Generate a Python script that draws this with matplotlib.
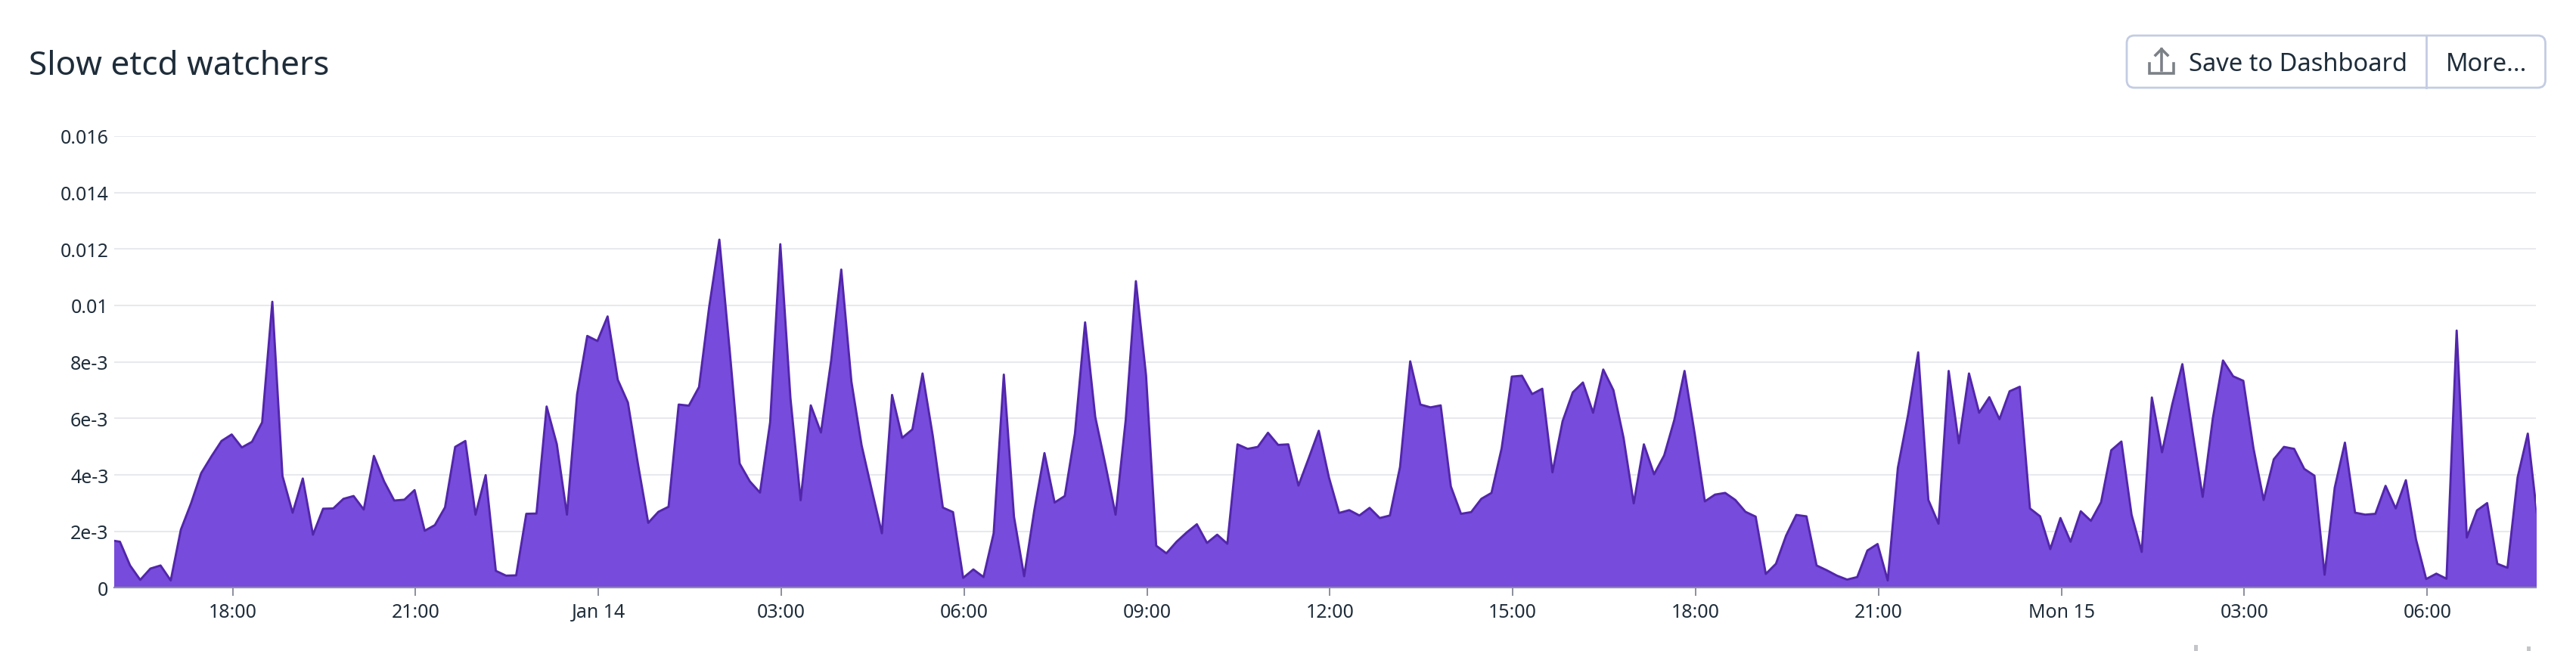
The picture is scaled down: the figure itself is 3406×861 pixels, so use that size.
import matplotlib
matplotlib.use("Agg")
import matplotlib.pyplot as plt
import numpy as np
import pandas as pd
from matplotlib.patches import FancyBboxPatch

W, H = 3406, 862

# values in units of 1e-3, one point every 10 minutes
part1 = [1.69, 1.63, 0.79, 0.28, 0.68, 0.79, 0.26, 2.06, 2.99, 4.06, 4.65, 5.2, 5.43, 4.97, 5.17, 5.86,
         10.13, 3.96, 2.66, 3.87, 1.88, 2.8, 2.81, 3.15, 3.25, 2.77, 4.67, 3.77, 3.09, 3.12, 3.46, 2.02,
         2.22, 2.85, 4.99, 5.2, 2.59, 3.99, 0.6, 0.43, 0.44, 2.62, 2.63, 6.42, 5.09, 2.59, 6.85, 8.92,
         8.74, 9.61, 7.37, 6.56, 4.36, 2.3, 2.69, 2.87, 6.49, 6.45, 7.11, 9.95, 12.33, 8.48, 4.4, 3.77,
         3.37, 5.86, 12.17, 6.71, 3.1, 6.46, 5.5, 8.03, 11.27, 7.3, 5.05]
part2 = [3.47, 1.93, 6.83, 5.31, 5.61, 7.59, 5.4, 2.84, 2.68, 0.35, 0.65, 0.38, 1.93, 7.55, 2.52, 0.41,
         2.74, 4.77, 3.02, 3.25, 5.46, 9.4, 6.05, 4.36, 2.59, 5.95, 10.86, 7.52, 1.49, 1.22, 1.63, 1.96,
         2.25, 1.59, 1.88, 1.56, 5.08, 4.92, 4.99, 5.49, 5.06, 5.08, 3.62, 4.58, 5.56, 3.91, 2.65, 2.75,
         2.56, 2.83, 2.47, 2.56, 4.28, 8.02, 6.49, 6.39, 6.46, 3.59, 2.62, 2.68, 3.15, 3.36, 4.94, 7.48,
         7.51, 6.86, 7.05, 4.09, 5.9, 6.92, 7.27, 6.2, 7.73, 7.0, 5.31, 2.99, 5.08, 4.02, 4.69, 5.95,
         7.68, 5.46, 3.06, 3.3]
part3 = [3.36, 3.11, 2.69, 2.52, 0.49, 0.85, 1.85, 2.58, 2.53, 0.79, 0.62, 0.43, 0.29, 0.38, 1.32, 1.55,
         0.26, 4.25, 6.12, 8.34, 3.11, 2.27, 7.68, 5.12, 7.59, 6.2, 6.75, 5.97, 6.96, 7.12, 2.81, 2.53,
         1.37, 2.47, 1.63, 2.71, 2.37, 3.03, 4.87, 5.18, 2.59, 1.27, 6.74, 4.8, 6.49, 7.92, 5.53, 3.22,
         6.0, 8.05, 7.49, 7.33, 4.94, 3.11, 4.55, 4.99, 4.92, 4.21, 3.97, 0.46, 3.55, 5.14, 2.66, 2.59,
         2.62, 3.61, 2.81, 3.81, 1.71, 0.31, 0.5, 0.32, 9.11, 1.78, 2.74, 3.0, 0.85, 0.71, 3.91, 5.46, 2.3]
watchers = np.array(part1 + part2 + part3) * 1e-3
times = pd.date_range("2024-01-13 15:59", periods=len(watchers), freq="10min")

y_ticks = [0, 0.002, 0.004, 0.006, 0.008, 0.01, 0.012, 0.014, 0.016]
y_labels = ["0", "2e-3", "4e-3", "6e-3", "8e-3", "0.01", "0.012", "0.014", "0.016"]
x_ticks = ["2024-01-13 18:00", "2024-01-13 21:00", "2024-01-14 00:00", "2024-01-14 03:00", "2024-01-14 06:00",
           "2024-01-14 09:00", "2024-01-14 12:00", "2024-01-14 15:00", "2024-01-14 18:00", "2024-01-14 21:00",
           "2024-01-15 00:00", "2024-01-15 03:00", "2024-01-15 06:00"]
x_labels = ["18:00", "21:00", "Jan 14", "03:00", "06:00", "09:00", "12:00", "15:00", "18:00", "21:00",
            "Mon 15", "03:00", "06:00"]

TEXT = "#1f2d3a"
plt.rcParams['font.family'] = ['Noto Sans', 'DejaVu Sans']

fig = plt.figure(figsize=(W / 100, H / 100), dpi=100, facecolor="white")
left, right, bottom, top = 150.5, 3353, 778.4, 180.9
ax = fig.add_axes([left / W, 1 - bottom / H, (right - left) / W, (bottom - top) / H])

ax.fill_between(times, watchers, 0, color="#774bdb", lw=0, zorder=2)
ax.plot(times, watchers, color="#5226ab", lw=2.1, zorder=3)

ax.set_xlim(pd.Timestamp("2024-01-13 16:03"), pd.Timestamp("2024-01-15 07:47"))
ax.set_ylim(0, 0.016)
ax.set_yticks(y_ticks)
ax.set_yticklabels(y_labels)
ax.set_xticks(pd.to_datetime(x_ticks))
ax.set_xticklabels(x_labels)
ax.grid(axis="y", color="#e8e9ed", lw=1.5, zorder=1)
ax.set_axisbelow(True)
for name in ["top", "right", "left"]:
    ax.spines[name].set_visible(False)
ax.spines["bottom"].set_color("#8b8f9c")
ax.spines["bottom"].set_linewidth(1.6)
ax.spines["bottom"].set_zorder(4)
ax.tick_params(axis="y", length=0, pad=5, labelsize=18, labelcolor=TEXT)
ax.tick_params(axis="x", length=8, width=1.4, color="#8b8f9c", pad=6, labelsize=18, labelcolor=TEXT)

# title and the buttons, in pixel coordinates of the screenshot
ui = fig.add_axes([0, 0, 1, 1], facecolor="none")
ui.set_xlim(0, W)
ui.set_ylim(H, 0)
ui.axis("off")
ui.text(38, 88, "Slow etcd watchers", fontsize=31.8, color=TEXT, va="center", ha="left")

ui.add_patch(FancyBboxPatch((2812, 48), 553.5, 69, boxstyle="round,pad=0,rounding_size=10",
                            fc="white", ec="#c3cce2", lw=2, mutation_aspect=1))
ui.plot([3207.5, 3207.5], [48, 117], color="#c3cce2", lw=2)
ui.plot([2842, 2842, 2874, 2874], [85, 98, 98, 85], color="#7c8188", lw=2.6, solid_joinstyle="miter")
ui.plot([2858, 2858], [94, 66], color="#7c8188", lw=2.6)
ui.plot([2850, 2858, 2866], [74, 66, 74], color="#7c8188", lw=2.6, solid_joinstyle="miter")
ui.text(2894, 86, "Save to Dashboard", fontsize=23.5, color=TEXT, va="center", ha="left")
ui.text(3234, 86, "More...", fontsize=23.5, color=TEXT, va="center", ha="left")

# small grey stubs cut off at the bottom edge of the screenshot
ui.plot([2902.7, 2902.7], [856, 864], color="#c4c5c9", lw=3.6)
ui.plot([3342.7, 3342.7], [858, 864], color="#c4c5c9", lw=3.6)

fig.savefig("out.png", dpi=100, facecolor="white")
